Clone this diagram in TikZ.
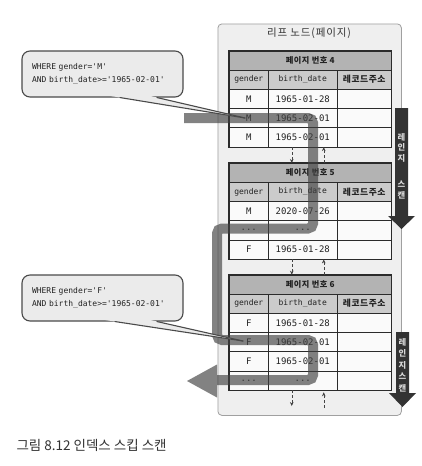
\documentclass[tikz,border=0pt]{standalone}
\usepackage{fontspec}
\setmainfont{Noto Sans CJK KR}
\setmonofont{DejaVu Sans Mono}
\usetikzlibrary{arrows.meta}
\definecolor{leaffill}{HTML}{EFEFEF}
\definecolor{leafline}{HTML}{A0A0A0}
\definecolor{hdrfill}{HTML}{B3B3B3}
\definecolor{colfill}{HTML}{CBCBCB}
\definecolor{cellfill}{HTML}{FAFAFA}
\definecolor{tabline}{HTML}{2B2B2B}
\definecolor{txt}{HTML}{222222}
\definecolor{bandcol}{HTML}{404040}
\definecolor{rangefill}{HTML}{333333}
\definecolor{rangetxt}{HTML}{D8D8D8}
\definecolor{callfill}{HTML}{EBEBEB}
\definecolor{callline}{HTML}{4A4A4A}
\definecolor{arrline}{HTML}{444444}
\definecolor{captxt}{HTML}{333333}
\tikzset{
  leafbox/.style={draw=leafline, fill=leaffill, line width=0.8pt, rounded corners=4pt, inner sep=0pt, anchor=north west},
  cellbase/.style={draw=tabline, line width=0.6pt, inner sep=0pt, anchor=center, text=txt},
  hcell/.style={cellbase, fill=hdrfill, font=\bfseries\fontsize{8.2}{9}\selectfont\addfontfeature{LetterSpace=6}, minimum height=19pt},
  ccell/.style={cellbase, fill=colfill, minimum height=19.2pt},
  dcell/.style={cellbase, fill=cellfill, minimum height=19.2pt, font=\ttfamily\fontsize{9}{10}\selectfont},
  gw/.style={minimum width=39.5pt},
  dw/.style={minimum width=68.5pt},
  aw/.style={minimum width=54.5pt},
  colmono/.style={font=\ttfamily\fontsize{8}{9}\selectfont},
  colkr/.style={font=\bfseries\fontsize{8.8}{9}\selectfont\addfontfeature{LetterSpace=6}},
  tableframe/.style={draw=tabline, line width=1.1pt},
  dotarr/.style={draw=arrline, line width=0.5pt, densely dashed, -{Stealth[length=4pt,width=3.6pt]}},
  band/.style={draw=bandcol, line width=10pt, opacity=0.65, rounded corners=5pt, line cap=butt},
  bandhead/.style={fill=bandcol, opacity=0.65},
  rangearrow/.style={fill=rangefill},
  rtext/.style={text=rangetxt, align=center, inner sep=0pt},
  callbox/.style={draw=callline, fill=callfill, line width=1.1pt, rounded corners=8pt, minimum height=46pt, text width=141pt, inner xsep=10pt, align=left, text=txt, font=\ttfamily\fontsize{8}{13}\selectfont},
  callside/.style={draw=callline, line width=1.1pt, line cap=round},
  title/.style={text=captxt, font=\fontsize{10.5}{12}\selectfont\addfontfeature{LetterSpace=8}},
  caption/.style={text=captxt, anchor=west, font=\fontsize{13.5}{15}\selectfont}
}
\newcommand\pgtable[3]{%
  \node[hcell, minimum width=162.5pt] (#1t) at (310.25,#2+9.5) {페이지 번호 #3};
  \node[ccell, gw, colmono] (#1cg) at (248.75,#2+28.6) {gender};
  \node[ccell, dw, colmono] (#1cd) at (302.75,#2+28.6) {birth\_date};
  \node[ccell, aw, colkr] (#1ca) at (364.25,#2+28.6) {레코드주소};
}
\newcommand\pgrow[4]{%
  \node[dcell, gw] (#1g) at (248.75,#2+9.6) {#3};
  \node[dcell, dw] (#1d) at (302.75,#2+9.6) {#4};
  \node[dcell, aw] (#1a) at (364.25,#2+9.6) {};
}
\begin{document}
\begin{tikzpicture}[x=1pt,y=-1pt]
\useasboundingbox (0,0) rectangle (422,466);
\fill[white] (0,0) rectangle (422,466);

% leaf node box
\node[leafbox, minimum width=183.5pt, minimum height=391.5pt] (leaf) at (217.5,23.5) {};
\node[title] (leaftitle) at (309,33) {리프 노드(페이지)};

% page 4
\pgtable{p4}{51}{4}
\pgrow{p4r1}{89.2}{M}{1965-01-28}
\pgrow{p4r2}{108.4}{M}{1965-02-01}
\pgrow{p4r3}{127.6}{M}{1965-02-01}
\draw[tableframe] (p4t.north west) rectangle (p4r3a.south east);

% page 5
\pgtable{p5}{163.3}{5}
\pgrow{p5r1}{201.5}{M}{2020-07-26}
\pgrow{p5r2}{220.7}{...}{...}
\pgrow{p5r3}{239.9}{F}{1965-01-28}
\draw[tableframe] (p5t.north west) rectangle (p5r3a.south east);

% page 6
\pgtable{p6}{275}{6}
\pgrow{p6r1}{313.2}{F}{1965-01-28}
\pgrow{p6r2}{332.4}{F}{1965-02-01}
\pgrow{p6r3}{351.6}{F}{1965-02-01}
\pgrow{p6r4}{370.8}{...}{...}
\draw[tableframe] (p6t.north west) rectangle (p6r4a.south east);

% page links
\draw[dotarr] ([xshift=-11pt]p4r3d.south) -- ([xshift=-11pt]p4r3d.south |- p5t.north);
\draw[dotarr] ([xshift=21pt]p4r3d.south |- p5t.north) -- ([xshift=21pt]p4r3d.south);
\draw[dotarr] ([xshift=-11pt]p5r3d.south) -- ([xshift=-11pt]p5r3d.south |- p6t.north);
\draw[dotarr] ([xshift=21pt]p5r3d.south |- p6t.north) -- ([xshift=21pt]p5r3d.south);
\coordinate (e1) at (291.75,406);
\coordinate (e2) at (323.75,408);
\draw[dotarr] ([xshift=-11pt]p6r4d.south) -- (e1);
\draw[dotarr, shorten >=2pt] (e2) -- ([xshift=21pt]p6r4d.south);

% skip scan band
\draw[band] (184,118) -- (313,118) -- (313,228.5) -- (217,228.5) -- (217,340) -- (313,340) -- (313,380) -- (217,380);
\fill[bandhead] (217,364.5) -- (187,381) -- (217,397.5) -- cycle;

% range scan arrows
\fill[rangearrow] (395,108) -- (408,108) -- (408,216) -- (415,216) -- (401.5,229) -- (388,216) -- (395,216) -- cycle;
\node[rtext, font=\bfseries\fontsize{8.3}{10.5}\selectfont] (rs1) at (401.5,166) {레\\인\\지\\[16pt]스\\캔};
\fill[rangearrow] (396,332) -- (409,332) -- (409,393) -- (416,393) -- (402.5,407) -- (389,393) -- (396,393) -- cycle;
\node[rtext, font=\bfseries\fontsize{8.3}{11.5}\selectfont] (rs2) at (402.5,365) {레\\인\\지\\스\\캔};

% callout 1
\node[callbox] (q1) at (102.5,74) {WHERE gender='M'\\AND birth\_date>='1965-02-01'};
\coordinate (t1) at (245,118);
\fill[callfill] ([xshift=8.5pt,yshift=1.5pt]q1.south) -- (t1) -- ([xshift=48.2pt,yshift=1.5pt]q1.south) -- cycle;
\draw[callside] ([xshift=17.5pt]q1.south) -- (t1);
\draw[callside] ([xshift=54.5pt]q1.south) -- (t1);

% callout 2
\node[callbox] (q2) at (102.5,298) {WHERE gender='F'\\AND birth\_date>='1965-02-01'};
\coordinate (t2) at (243,341);
\fill[callfill] ([xshift=2.9pt,yshift=1.5pt]q2.south) -- (t2) -- ([xshift=48.1pt,yshift=1.5pt]q2.south) -- cycle;
\draw[callside] ([xshift=12.5pt]q2.south) -- (t2);
\draw[callside] ([xshift=54.5pt]q2.south) -- (t2);

% caption
\node[caption] (cap) at (13,445) {그림 8.12 인덱스 스킵 스캔};
\end{tikzpicture}
\end{document}
